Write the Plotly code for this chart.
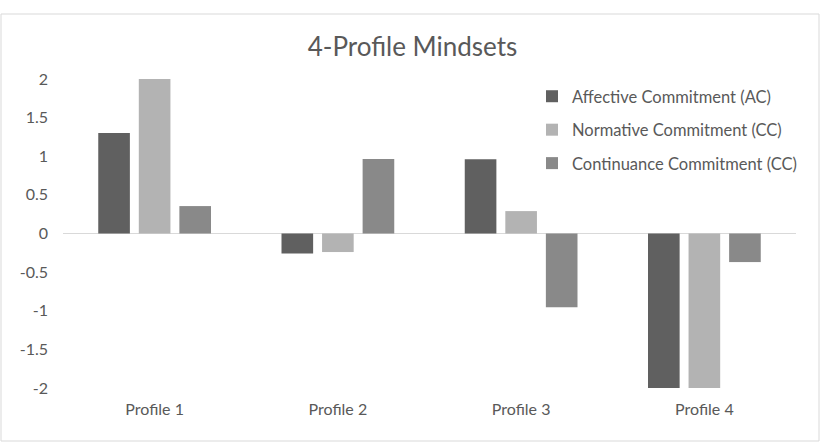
import plotly.graph_objects as go

categories = ["Profile 1", "Profile 2", "Profile 3", "Profile 4"]
series_names = ["Affective Commitment (AC)", "Normative Commitment (CC)", "Continuance Commitment (CC)"]
affective = [1.30, -0.26, 0.96, -2.00]
normative = [2.00, -0.24, 0.29, -2.02]
continuance = [0.355, 0.965, -0.955, -0.37]
colors = ["#606060", "#b3b3b3", "#898989"]
y_ticks = [-2, -1.5, -1, -0.5, 0, 0.5, 1, 1.5, 2]
y_tick_labels = ["-2", "-1.5", "-1", "-0.5", "0", "0.5", "1", "1.5", "2"]

W, H = 825, 446
ml, mr, mt, mb = 63, 29, 79, 58
pw, ph = W - ml - mr, H - mt - mb

fig = go.Figure()
for i, (name, vals) in enumerate(zip(series_names, [affective, normative, continuance])):
    fig.add_trace(go.Bar(
        x=categories, y=vals, name=name,
        marker=dict(color=colors[i], line=dict(width=0)),
        legendgroup=f"g{i}",
    ))

font_family = "Lato, 'Open Sans', sans-serif"
fig.update_layout(
    width=W, height=H,
    margin=dict(l=ml, r=mr, t=mt, b=mb),
    paper_bgcolor="white", plot_bgcolor="white",
    barmode="group", bargap=0.336, bargroupgap=0.22,
    title=dict(text="4-Profile Mindsets", x=0.5, xref="container", xanchor="center",
               y=1 - 47 / H, yref="container", yanchor="middle",
               font=dict(family=font_family, size=26, color="#595959")),
    font=dict(family=font_family, size=16, color="#595959"),
    legend=dict(x=(532 - ml) / pw, y=(mt + ph - 79) / ph, xanchor="left", yanchor="top",
                bgcolor="rgba(0,0,0,0)", font=dict(size=16.5, color="#595959"),
                tracegroupgap=9, itemwidth=30),
    showlegend=True,
    xaxis=dict(showgrid=False, showline=False, ticks="", zeroline=False,
               tickfont=dict(size=16, color="#595959"), ticklabelstandoff=10),
    yaxis=dict(range=[-2, 2], tickvals=y_ticks, ticktext=y_tick_labels, showgrid=False,
               showline=False, zeroline=True, zerolinecolor="#d9d9d9", zerolinewidth=1,
               ticks="", tickfont=dict(size=16, color="#595959"), ticklabelstandoff=14),
    shapes=[dict(type="rect", xref="paper", yref="paper",
                 x0=(1 - ml) / pw, x1=(819 - ml) / pw,
                 y0=(mt + ph - 441) / ph, y1=(mt + ph - 14) / ph,
                 line=dict(color="#d9d9d9", width=1), fillcolor="rgba(0,0,0,0)", layer="below")],
)

fig.write_html("out.html")
